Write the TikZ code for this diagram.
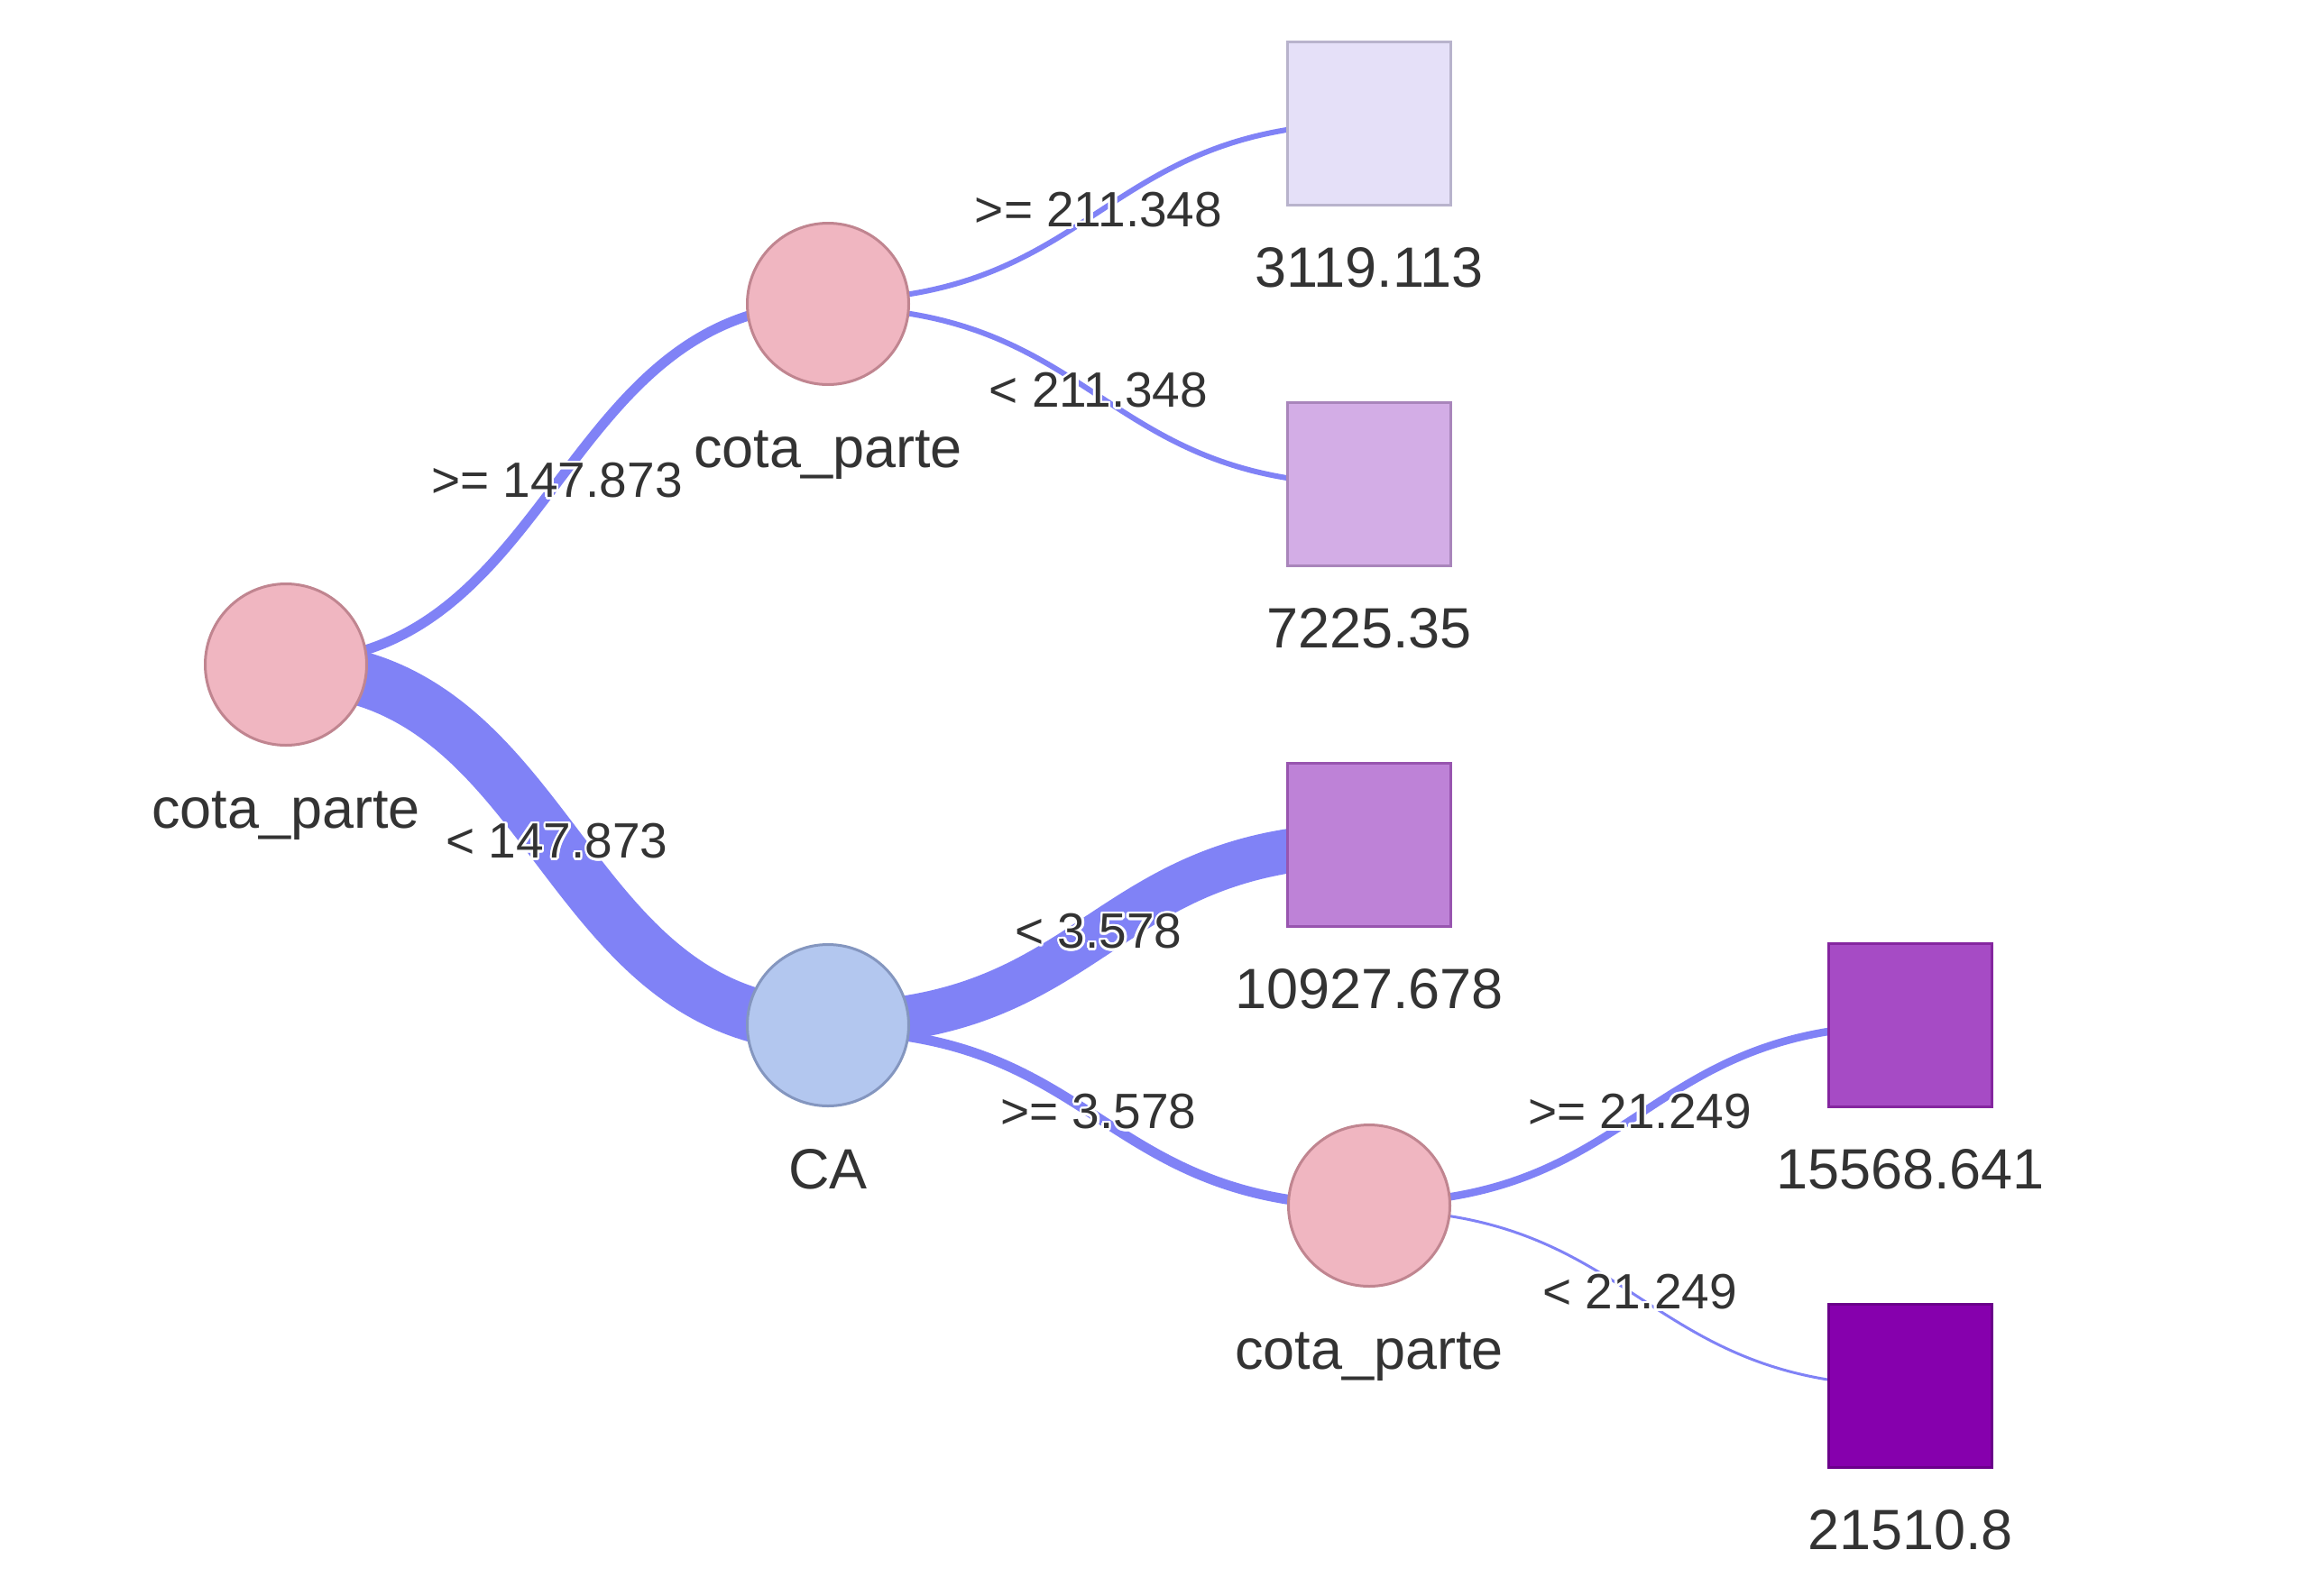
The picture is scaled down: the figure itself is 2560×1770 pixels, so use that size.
\documentclass[tikz,border=0pt]{standalone}
\usepackage{fontspec}
\setmainfont{Liberation Sans}
\usepackage{contour}
\contourlength{2.5pt}
\usetikzlibrary{calc}
\pgfdeclarelayer{bg}
\pgfsetlayers{bg,main}
\definecolor{edgec}{RGB}{128,130,246}
\definecolor{txt}{RGB}{51,51,51}
\definecolor{pinkf}{RGB}{240,182,193}
\definecolor{pinkd}{RGB}{192,133,144}
\definecolor{bluef}{RGB}{179,199,239}
\definecolor{blued}{RGB}{132,150,191}
\definecolor{sqa}{RGB}{229,224,248}\definecolor{sqad}{RGB}{184,179,204}
\definecolor{sqb}{RGB}{211,173,230}\definecolor{sqbd}{RGB}{169,133,187}
\definecolor{sqc}{RGB}{190,130,215}\definecolor{sqcd}{RGB}{152,85,175}
\definecolor{sqd}{RGB}{166,75,197}\definecolor{sqdd}{RGB}{133,38,160}
\definecolor{sqe}{RGB}{134,0,173}\definecolor{sqed}{RGB}{107,0,139}
\newcommand{\treelink}[5]{%
  \coordinate (#5s) at ($(#1.center)+(0,#3)$);
  \coordinate (#5m) at ($(#5s)!0.5!(#2.center)$);
  \begin{pgfonlayer}{bg}
  \draw[edge,line width=#4pt] (#5s) .. controls (#5m |- #5s) and (#5m |- #2.center) .. (#2.center);
  \end{pgfonlayer}
}
\begin{document}
\begin{tikzpicture}[x=1pt,y=-1pt,
  edge/.style={draw=edgec},
  splitnode/.style={circle,draw,line width=3pt,minimum size=179pt,inner sep=0pt},
  pinknode/.style={splitnode,fill=pinkf,draw=pinkd},
  bluenode/.style={splitnode,fill=bluef,draw=blued},
  leaf/.style={rectangle,line width=3pt,minimum size=181pt,inner sep=0pt},
  nlab/.style={anchor=base,text=txt,inner sep=0pt,font=\fontsize{63}{70}\selectfont},
  elab/.style={anchor=center,text=txt,inner sep=0pt,font=\fontsize{55}{60}\selectfont}]
\useasboundingbox (0,0) rectangle (2560,1770);
% split nodes
\node[pinknode] (root) at (317,737) {};
\node[pinknode] (top) at (918,337) {};
\node[bluenode] (ca) at (918,1137) {};
\node[pinknode] (bot) at (1518,1337) {};
% leaves
\node[leaf,fill=sqa,draw=sqad] (v1) at (1518,137) {};
\node[leaf,fill=sqb,draw=sqbd] (v2) at (1518,537) {};
\node[leaf,fill=sqc,draw=sqcd] (v3) at (1518,937) {};
\node[leaf,fill=sqd,draw=sqdd] (v4) at (2118,1137) {};
\node[leaf,fill=sqe,draw=sqed] (v5) at (2118,1537) {};
% links
\treelink{root}{top}{-3}{11}{ea}
\treelink{root}{ca}{4}{60}{eb}
\treelink{top}{v1}{-4}{6}{ec}
\treelink{top}{v2}{4}{6}{ed}
\treelink{ca}{v3}{-2}{49}{ee}
\treelink{ca}{bot}{6}{11}{ef}
\treelink{bot}{v4}{-3}{8.5}{eg}
\treelink{bot}{v5}{5}{3}{eh}
% node labels
\node[nlab] (lroot) at ($(root)+(0,181)$) {cota\_parte};
\node[nlab] (ltop) at ($(top)+(0,181)$) {cota\_parte};
\node[nlab] (lca) at ($(ca)+(0,181)$) {CA};
\node[nlab] (lbot) at ($(bot)+(0,181)$) {cota\_parte};
\node[nlab] (lv1) at ($(v1)+(0,181)$) {3119.113};
\node[nlab] (lv2) at ($(v2)+(0,181)$) {7225.35};
\node[nlab] (lv3) at ($(v3)+(0,181)$) {10927.678};
\node[nlab] (lv4) at ($(v4)+(0,181)$) {15568.641};
\node[nlab] (lv5) at ($(v5)+(0,181)$) {21510.8};
% edge labels
\node[elab] (la) at ($(root)!0.5!(top)+(0,-3)$) {\contour{white}{>= 147.873}};
\node[elab] (lb) at ($(root)!0.5!(ca)+(0,-3)$) {\contour{white}{< 147.873}};
\node[elab] (lc) at ($(top)!0.5!(v1)+(0,-3)$) {\contour{white}{>= 211.348}};
\node[elab] (ld) at ($(top)!0.5!(v2)+(0,-3)$) {\contour{white}{< 211.348}};
\node[elab] (le) at ($(ca)!0.5!(v3)+(0,-3)$) {\contour{white}{< 3.578}};
\node[elab] (lf) at ($(ca)!0.5!(bot)+(0,-3)$) {\contour{white}{>= 3.578}};
\node[elab] (lg) at ($(bot)!0.5!(v4)+(0,-3)$) {\contour{white}{>= 21.249}};
\node[elab] (lh) at ($(bot)!0.5!(v5)+(0,-3)$) {\contour{white}{< 21.249}};
\end{tikzpicture}
\end{document}
